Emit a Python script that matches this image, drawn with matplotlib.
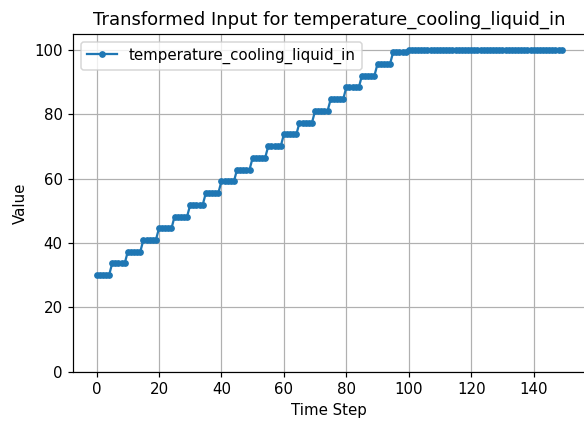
import numpy as np
import matplotlib
matplotlib.use("Agg")
import matplotlib.pyplot as plt

# Step levels (each held for a number of time steps)
step_levels = [30.0, 33.65, 37.3, 40.95, 44.6, 48.25, 51.9, 55.55, 59.2, 62.85,
               66.5, 70.15, 73.8, 77.45, 81.1, 84.75, 88.4, 92.05, 95.7, 99.35,
               100.0]
step_lengths = [5] * 20 + [50]

values = np.repeat(step_levels, step_lengths)
time_steps = np.arange(len(values))

series_label = "temperature_cooling_liquid_in"
title = "Transformed Input for temperature_cooling_liquid_in"

DPI = 108
W, H = 584, 421
fig = plt.figure(figsize=(W / DPI, H / DPI), dpi=DPI)
ax = fig.add_axes([73.3 / W, (H - 371.7) / H, (585.0 - 73.3) / W, (371.7 - 34.0) / H])

ax.plot(time_steps, values, marker='.', markersize=7, label=series_label)
ax.set_ylim(0, 105)
ax.set_title(title)
ax.set_xlabel("Time Step")
ax.set_ylabel("Value")
ax.legend(loc="upper left")
ax.grid(True)

fig.savefig("out.png", dpi=DPI)
